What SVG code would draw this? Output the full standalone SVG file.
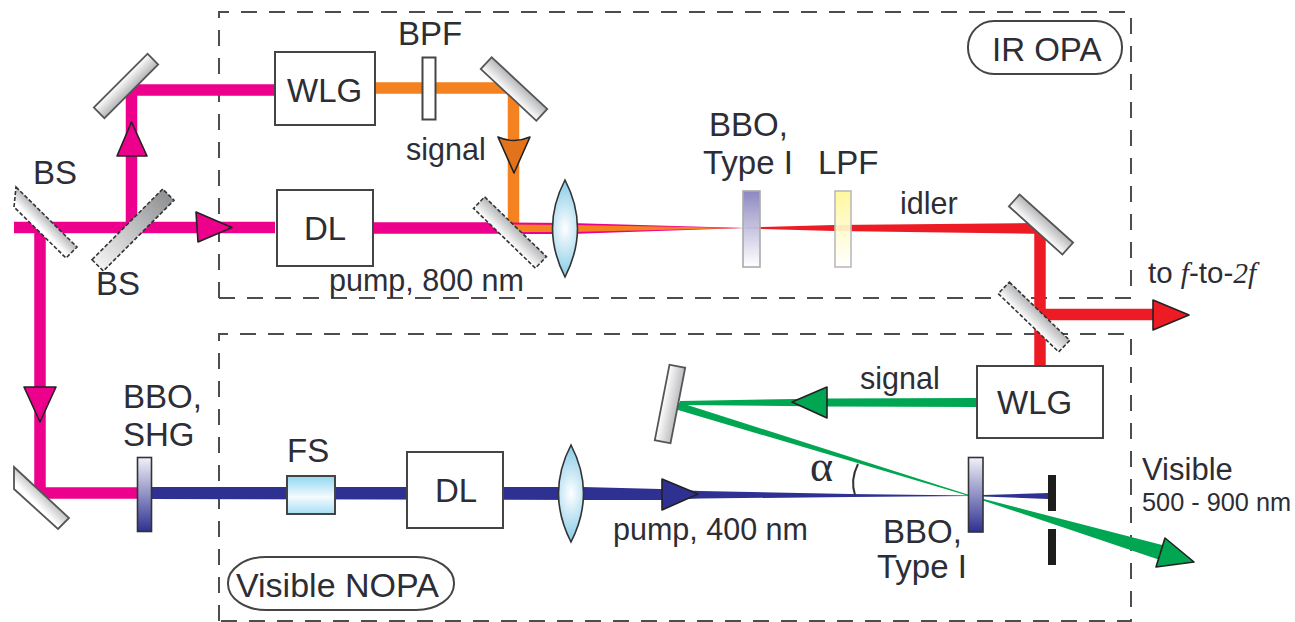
<svg xmlns="http://www.w3.org/2000/svg" width="1295" height="622" viewBox="0 0 1295 622">
<style>
text{font-family:"Liberation Sans",Arial,sans-serif;font-size:33px;fill:#2d2d35}
.s{font-size:30.5px}
.it{font-family:"Liberation Serif","Times New Roman",serif;font-style:italic}
.frame{fill:none;stroke:#4d4d4d;stroke-width:2;stroke-dasharray:16 12}
.box{fill:#fff;stroke:#444;stroke-width:2}
.pill{fill:#fff;stroke:#444;stroke-width:2}
.m{fill:url(#mir);stroke:#555;stroke-width:1.8}
.mr{fill:url(#mirR);stroke:#555;stroke-width:1.8}
.bs{fill:url(#mir);stroke:#333;stroke-width:1.6;stroke-dasharray:4 2}
.ar{stroke:#222;stroke-width:1.6;stroke-linejoin:round}
.lens{fill:url(#lensg);stroke:#333;stroke-width:1.6}
.pink{fill:none;stroke:#ec008c;stroke-width:11.5}
</style>
<defs>
<linearGradient id="mir" x1="0" y1="0" x2="0" y2="1"><stop offset="0" stop-color="#b4b5b7"/><stop offset="1" stop-color="#fff"/></linearGradient>
<linearGradient id="mirR" x1="0" y1="0" x2="0" y2="1"><stop offset="0" stop-color="#fff"/><stop offset="1" stop-color="#b4b5b7"/></linearGradient>
<linearGradient id="mirL" x1="0" y1="0" x2="1" y2="0"><stop offset="0" stop-color="#f4f4f4"/><stop offset="1" stop-color="#8f9092"/></linearGradient>
<linearGradient id="mirH" x1="0" y1="0" x2="1" y2="0"><stop offset="0" stop-color="#fff"/><stop offset="1" stop-color="#bcbdbf"/></linearGradient>
<linearGradient id="mirA" gradientUnits="userSpaceOnUse" x1="50.500" y1="216.500" x2="39.500" y2="227.500"><stop offset="0" stop-color="#a4a5a7"/><stop offset="1" stop-color="#fff"/></linearGradient>
<linearGradient id="mirB" gradientUnits="userSpaceOnUse" x1="46.500" y1="492.500" x2="35.500" y2="503.500"><stop offset="0" stop-color="#b4b5b7"/><stop offset="1" stop-color="#fff"/></linearGradient>
<linearGradient id="blue1" x1="0" y1="0" x2="0" y2="1"><stop offset="0" stop-color="#f2f1f8"/><stop offset="1" stop-color="#2e3192"/></linearGradient>
<linearGradient id="purp" x1="0" y1="0" x2="0" y2="1"><stop offset="0" stop-color="#8781bd" stop-opacity=".95"/><stop offset="1" stop-color="#fff" stop-opacity=".9"/></linearGradient>
<linearGradient id="yel" x1="0" y1="0" x2="0" y2="1"><stop offset="0" stop-color="#fff799" stop-opacity=".95"/><stop offset="1" stop-color="#fff" stop-opacity=".9"/></linearGradient>
<linearGradient id="fsg" x1="0" y1="0" x2="0" y2="1"><stop offset="0" stop-color="#8fd6f0"/><stop offset=".55" stop-color="#f4fbfe"/><stop offset="1" stop-color="#a5def4"/></linearGradient>
<radialGradient id="lensg" cx=".5" cy=".5" r=".5" gradientTransform="translate(-.5 0) scale(2 1)"><stop offset="0" stop-color="#fff"/><stop offset="1" stop-color="#85cbe8"/></radialGradient>
</defs>

<g id="frames">
<path class="frame" d="M219 298V12H1131V298H219"/>
<path class="frame" d="M219 621V334H1131V621H219"/>
</g>

<g id="connectors">
<path class="pink" d="M14 227.500H275M131.500 227.500V90H275M40 227V493H137M373 228H500"/>
<path fill="none" stroke="#f58220" stroke-width="11.500" d="M375 88H513.500V228"/>
<polygon fill="#ec008c" points="500,222.500 570,223 745,228 570,234 500,234"/>
<polygon fill="#f58220" points="508,224.500 570,225 745,228 570,232 508,232"/>
<polygon fill="#ed1c24" points="745,227.500 834,225 1034,223 1046,223 1046,234 834,231 745,228.500"/>
<path fill="none" stroke="#ed1c24" stroke-width="11.500" d="M1040 223V366M1040 314.500H1158"/>
<polygon fill="#2e3192" points="151,487 583,487 660,489 700,491 850,494 970,495.500 983,495 1048,493 1048,499 983,496.500 970,496 850,497 700,498.500 660,500 583,500 151,499"/>
<polygon fill="#00a651" points="977,398 827,398.500 680,401 680,405 827,406.500 977,407"/>
<polygon fill="#00a651" points="678,402 974,496.500 1166,546 1160,560 974,497.500 678,410"/>
<path fill="none" stroke="#333" stroke-width="2" d="M858 464Q850 480 855 495"/>
<polygon class="ar" fill="#ec008c" points="131.500,122 147,156 117,156"/>
<polygon class="ar" fill="#ec008c" points="232,227.500 196,212 198,242"/>
<polygon class="ar" fill="#ec008c" points="40,422 24,387 56,387"/>
<path class="ar" fill="#e2731c" d="M514 173L498 137Q514 144 530 137Z"/>
<polygon class="ar" fill="#ed1c24" points="1189,315 1153,300 1153,330"/>
<polygon class="ar" fill="#2e3192" points="698,494 662,479 662,510"/>
<polygon class="ar" fill="#00a651" points="792,402 827,387 827,418"/>
<polygon class="ar" fill="#00a651" points="1194,562 1165,538 1156,567"/>
</g>

<g id="mirror-1"><rect class="mr" x="-38" y="-7.500" width="76" height="15" transform="translate(126 86) rotate(-45)"/></g>
<g id="bs-1"><polygon class="bs" style="fill:url(#mirA)" points="16,187 77,247 66,258 14,207"/><text x="33" y="184">BS</text></g>
<g id="bs-2"><rect class="bs" style="fill:url(#mirL)" x="-50" y="-8" width="100" height="16" transform="translate(133 230) rotate(-45)"/><text x="96" y="295">BS</text></g>
<g id="wlg-1"><rect class="box" x="275" y="52" width="100" height="73"/><text x="287" y="102">WLG</text></g>
<g id="dl-1"><rect class="box" x="277" y="190" width="96" height="76"/><text x="304" y="240">DL</text></g>
<g id="bpf"><rect class="box" x="422.500" y="57.500" width="13" height="62"/><text x="398" y="45">BPF</text></g>
<g id="mirror-2"><rect class="m" x="-38" y="-8" width="76" height="16" transform="translate(514 89) rotate(43)"/></g>
<g id="bs-3"><rect class="bs" x="-43" y="-8" width="86" height="16" transform="translate(510 232.500) rotate(44)"/></g>
<g id="lens-1"><path class="lens" d="M565 180Q590 228 565 277Q540 228 565 180Z"/></g>
<g id="bbo-1"><rect x="743" y="191" width="17" height="76" fill="url(#purp)" stroke="#aaa" stroke-width="1.600"/><text x="709" y="136">BBO,</text><text x="703" y="174">Type I</text></g>
<g id="lpf"><rect x="835" y="191" width="16" height="76" fill="url(#yel)" stroke="#bbb" stroke-width="1.600"/><text x="818" y="174">LPF</text></g>
<g id="mirror-3"><rect class="m" x="-36" y="-8" width="72" height="16" transform="translate(1041 224.500) rotate(42)"/></g>
<g id="bs-4"><rect class="bs" x="-42" y="-8" width="84" height="16" transform="translate(1034 317) rotate(44)"/></g>
<g id="ir-opa"><rect class="pill" x="968" y="21" width="154" height="53" rx="26" ry="26"/><text x="992" y="61">IR OPA</text></g>
<g id="mirror-4"><polygon class="m" style="fill:url(#mirB)" points="14,467 69,518 58,529 14,489"/></g>
<g id="bbo-shg"><rect x="137.500" y="457.500" width="14" height="74" fill="url(#blue1)" stroke="#333" stroke-width="1.600"/><text x="123" y="408">BBO,</text><text x="123" y="446">SHG</text></g>
<g id="fs"><rect x="287" y="476" width="48" height="38" fill="url(#fsg)" stroke="#444" stroke-width="2"/><text x="287" y="462">FS</text></g>
<g id="dl-2"><rect class="box" x="407" y="452" width="96" height="76"/><text x="435" y="502">DL</text></g>
<g id="lens-2"><path class="lens" d="M571 445Q596 493 571 542Q546 493 571 445Z"/></g>
<g id="mirror-5"><rect class="m" style="fill:url(#mirH)" x="-8" y="-38.500" width="16" height="77" transform="translate(670 404) rotate(11)"/></g>
<g id="wlg-2"><rect class="box" x="977" y="366" width="126" height="72"/><text x="997" y="414">WLG</text></g>
<g id="bbo-2"><rect x="968.500" y="457.500" width="14.500" height="74.500" fill="url(#blue1)" stroke="#333" stroke-width="1.600"/><text x="883" y="543">BBO,</text><text x="877" y="578">Type I</text></g>
<g id="block"><rect x="1048" y="475" width="8" height="36" fill="#1d1d1b"/><rect x="1048" y="529" width="8" height="36" fill="#1d1d1b"/></g>
<g id="nopa"><rect class="pill" x="228" y="557" width="226" height="53" rx="38" ry="26"/><text x="236" y="597" style="font-size:34px">Visible NOPA</text></g>

<g id="labels">
<text class="s" x="406" y="160">signal</text>
<text class="s" x="329" y="291">pump, 800 nm</text>
<text class="s" x="900" y="214">idler</text>
<text x="1148" y="283" style="font-size:29.500px">to <tspan class="it">f</tspan>-to-<tspan class="it">2f</tspan></text>
<text class="s" x="860" y="389">signal</text>
<text class="s" x="613" y="540">pump, 400 nm</text>
<text x="810" y="481" style="font-family:'Liberation Serif',serif;font-size:44px">α</text>
<text x="1142" y="480" style="font-size:31px">Visible</text>
<text x="1142" y="511" style="font-size:25.300px">500 - 900 nm</text>
</g>
</svg>
